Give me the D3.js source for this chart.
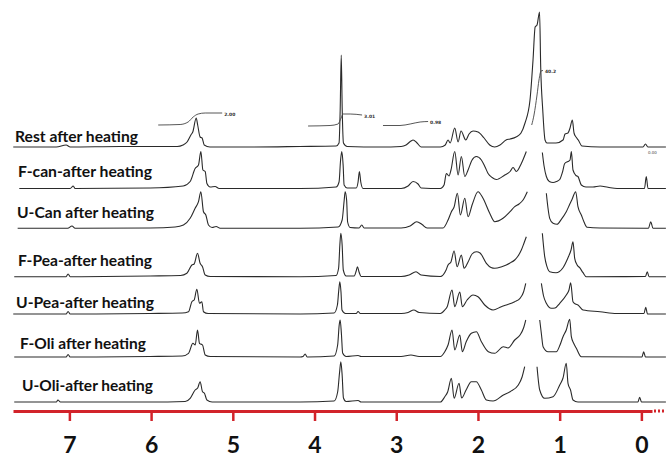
<!DOCTYPE html>
<html><head><meta charset="utf-8">
<script src="https://cdn.jsdelivr.net/npm/d3@7"></script>
<style>html,body{margin:0;padding:0;background:#fff;}svg{display:block;}</style>
</head><body>
<svg id="chart" width="666" height="457"></svg>
<script>
// ---------- DATA ----------
const ppmTicks = [7, 6, 5, 4, 3, 2, 1, 0];
const sampleNames = ["Rest after heating", "F-can-after heating", "U-Can after heating",
  "F-Pea-after heating", "U-Pea-after heating", "F-Oli after heating", "U-Oli-after heating"];

// [chemical shift (ppm), intensity]; null intensity = break in the trace
const restSpectrum = [[7.687,0],[7.16,0],[7.04,2],[6.99,0],[6.38,0.5],[5.68,0.5],[5.61,2],[5.56,5],[5.513,12],[5.49,15],[5.448,29],[5.43,22],[5.40,10],[5.376,9],[5.35,2],[5.28,0],
  [4.79,0],[4.18,0.5],[3.736,1],[3.70,4],[3.686,37],[3.673,92],[3.661,37],[3.646,4],[3.60,0.5],[3.19,0],[2.94,0.5],[2.88,2],[2.82,6],[2.794,7],[2.745,4],[2.696,0],
  [2.46,0],[2.40,2],[2.366,7],[2.34,4],[2.284,19],[2.243,5],[2.207,16],[2.149,7],[2.109,13],[2.06,16],[1.999,15],[1.925,9],[1.856,2],[1.795,0],[1.73,2],[1.656,7],[1.607,8],[1.534,10],[1.473,14],[1.424,24],[1.363,47],[1.326,87],[1.30,120],[1.277,122],[1.246,135],[1.232,80],[1.207,37],[1.179,7],[1.155,4],
  [1.045,4],[0.959,7],[0.934,13],[0.898,14],[0.873,19],[0.845,27],[0.824,14],[0.80,10],[0.772,7],[0.727,1],[0.506,0],[-0.02,0],[-0.05,3],[-0.08,0],[-0.30,0]];
const fCanSpectrum = [[7.613,0],[6.99,0],[6.953,2.5],[6.93,0],[6.01,0.5],[5.607,2.5],[5.522,7],[5.461,20],[5.42,23.5],[5.391,37],[5.366,18.5],[5.338,17],[5.317,5],[5.277,1.5],[5.216,2],[5.167,0],
  [4.176,0],[3.736,1.5],[3.70,6.5],[3.681,28.5],[3.666,37],[3.65,23.5],[3.638,3.5],[3.60,0.5],[3.49,0.5],[3.467,6.5],[3.451,17],[3.434,6.5],[3.406,0],[2.94,0],[2.855,2.5],[2.794,7],[2.733,4.5],[2.696,0.5],
  [2.46,0],[2.415,3.5],[2.387,15],[2.354,12.5],[2.33,18.5],[2.284,37],[2.243,13.5],[2.203,32],[2.161,12],[2.121,18.5],[2.072,28.5],[2.02,32],[1.958,28.5],[1.913,21.5],[1.876,15],[1.827,11],[1.775,9],[1.672,13.5],[1.607,17],[1.57,21],[1.53,17],[1.469,25],[1.408,37],
  [1.3,null],
  [1.212,36],[1.191,22.5],[1.163,12],[1.127,7],[1.081,6],[1.039,7],[0.999,9],[0.965,16.5],[0.938,25],[0.898,27],[0.873,28.5],[0.857,37],[0.837,18.5],[0.80,13],[0.776,12],[0.735,3.5],[0.678,1.5],[0.592,1.5],[0.506,2.5],[0.409,1.2],[0.298,0],[-0.038,0],[-0.06,12],[-0.081,0],[-0.30,0]];
const uCanSpectrum = [[7.633,0],[7.02,0],[6.968,2.3],[6.93,0],[6.01,0.3],[5.706,1.3],[5.604,3.3],[5.522,10],[5.461,20],[5.42,26.6],[5.391,36.6],[5.359,16.6],[5.33,13.3],[5.298,3.3],[5.253,0.8],[5.204,1.8],[5.155,0],
  [4.176,0],[3.711,1.3],[3.662,8.3],[3.637,28],[3.625,36.6],[3.607,28],[3.595,6.3],[3.564,0.8],[3.455,0.3],[3.422,3.3],[3.393,0.3],[2.94,0.3],[2.83,2.3],[2.749,6.6],[2.684,3.8],[2.623,0.3],
  [2.427,0.3],[2.366,8.3],[2.325,16.6],[2.292,21.3],[2.252,35],[2.215,13.3],[2.161,30],[2.121,11.6],[2.072,23.3],[1.999,36.6],[1.938,30],[1.856,15],[1.795,6.6],[1.693,10],[1.607,16.6],[1.55,21.6],[1.497,24.3],[1.448,28.3],[1.396,36.6],
  [1.3,null],
  [1.163,35],[1.143,20.3],[1.122,10],[1.081,5],[1.032,4],[0.98,9],[0.919,16.6],[0.877,24],[0.849,28.8],[0.804,36.6],[0.776,21.6],[0.735,13.3],[0.702,6.3],[0.665,1],[0.506,0.3],[-0.087,0],[-0.114,6.6],[-0.142,0],[-0.30,0]];
const fPeaSpectrum = [[7.675,0],[7.04,0],[7.016,2.7],[6.99,0],[6.01,0.7],[5.64,1.2],[5.562,3.4],[5.501,11.7],[5.473,12.7],[5.432,23.4],[5.40,13.4],[5.371,10],[5.338,1.7],[5.277,0.2],
  [4.176,0],[3.736,1.2],[3.705,8.7],[3.69,31.7],[3.678,43.4],[3.662,31.7],[3.648,6.7],[3.613,0.7],[3.515,0.7],[3.49,5.7],[3.475,10],[3.455,4.7],[3.43,0.2],[2.94,0.2],[2.843,1.7],[2.758,5],[2.696,1.7],
  [2.46,0.2],[2.39,6.7],[2.366,11.7],[2.33,14.7],[2.292,25.7],[2.255,10],[2.203,21.7],[2.17,8.4],[2.121,14.7],[2.072,22.7],[2.02,25],[1.974,23.7],[1.897,13.4],[1.84,9.2],[1.795,8.4],[1.717,9.7],[1.653,11.7],[1.607,13.7],[1.55,16.7],[1.509,20.7],[1.469,26.7],[1.436,33.7],[1.408,40],
  [1.3,null],
  [1.212,43.4],[1.183,20],[1.155,10],[1.122,5],[1.045,4],[0.959,9],[0.898,19],[0.861,26.7],[0.837,35],[0.816,18.4],[0.788,12],[0.755,9],[0.714,4],[0.674,0],[-0.05,0.2],[-0.072,5],[-0.093,0],[-0.30,0]];
const uPeaSpectrum = [[7.687,0],[7.04,0],[7.016,2.5],[6.99,0],[6.01,0.5],[5.62,1],[5.542,2.3],[5.501,12.3],[5.473,14],[5.44,24.7],[5.408,10.7],[5.379,12.3],[5.359,2.3],[5.302,0.5],
  [4.176,0],[3.76,1],[3.72,9],[3.703,24],[3.69,32.3],[3.676,22],[3.664,4],[3.621,0.5],[3.49,0.5],[3.467,2.5],[3.44,0.5],[2.94,0.5],[2.855,1.5],[2.785,4],[2.72,1.5],
  [2.46,0.5],[2.406,4],[2.378,7],[2.317,24],[2.284,7.3],[2.222,22],[2.191,7.3],[2.133,14],[2.06,19],[1.999,17.3],[1.917,9],[1.815,4],[1.714,7.3],[1.653,9],[1.55,12.3],[1.485,15.7],[1.442,22],[1.415,30.7],
  [1.3,null],
  [1.224,30.7],[1.197,18],[1.163,10.7],[1.102,5.7],[1.057,6],[0.999,10.7],[0.919,19],[0.886,24],[0.865,31.3],[0.837,12.3],[0.806,10],[0.776,9],[0.714,4],[0.506,2.3],[0.302,0.5],[-0.032,0.5],[-0.053,6.7],[-0.075,0],[-0.30,0]];
const fOliSpectrum = [[7.675,0],[7.04,0],[7.016,2.5],[6.99,0],[6.01,0.5],[5.62,1],[5.542,3.7],[5.488,13.7],[5.46,12],[5.432,27],[5.408,13.7],[5.371,12],[5.338,2],[5.277,0.5],
  [4.176,0],[4.14,0.5],[4.115,3],[4.09,0],[3.76,1],[3.717,12],[3.698,32],[3.686,37],[3.67,22],[3.656,4],[3.613,0.5],[3.467,1.5],[3.43,0.5],[2.94,0.5],[2.82,2],[2.72,0.5],
  [2.46,0.5],[2.406,5.3],[2.366,12],[2.317,27],[2.284,7],[2.222,22],[2.191,5.3],[2.145,15],[2.081,23.7],[2.02,25.3],[1.958,15.3],[1.873,5.3],[1.795,3.7],[1.689,10.3],[1.632,9],[1.55,17],[1.485,22],[1.442,29],[1.415,37],
  [1.3,null],
  [1.244,37],[1.222,22],[1.203,10.3],[1.142,5.3],[1.041,5.3],[0.996,12],[0.959,20.3],[0.919,27],[0.877,37.7],[0.857,20.3],[0.83,14],[0.796,8.7],[0.735,0.3],[-0.007,0],[-0.028,5.3],[-0.05,0],[-0.30,0]];
const uOliSpectrum = [[7.675,0],[7.16,0],[7.14,2],[7.11,0],[6.01,0],[5.583,0.5],[5.522,3.7],[5.461,12],[5.43,14],[5.40,20.3],[5.371,10.3],[5.347,8.7],[5.317,2],[5.253,0],
  [4.176,0],[3.76,1],[3.717,10],[3.693,30],[3.678,40.3],[3.662,27],[3.646,4],[3.613,0.5],[3.467,1.5],[3.43,0],
  [2.46,0],[2.406,5.3],[2.371,10],[2.325,23.7],[2.292,3.7],[2.231,18.7],[2.20,4],[2.145,12],[2.081,20.3],[2.02,20.3],[1.958,12],[1.897,2],[1.815,1],[1.689,7],[1.607,10.3],[1.506,17],[1.46,25],[1.428,35.3],
  [1.3,null],
  [1.277,35.3],[1.244,12],[1.183,3.7],[1.081,5.3],[0.999,17],[0.959,24],[0.919,38.7],[0.898,18.7],[0.867,12],[0.837,2],[0.776,0],[0.042,0],[0.021,4.7],[-0.001,0],[-0.30,0]];
const spectra = [restSpectrum, fCanSpectrum, uCanSpectrum, fPeaSpectrum, uPeaSpectrum, fOliSpectrum, uOliSpectrum];

// integration traces drawn over the top spectrum: [ppm, height]
const integrals = [
  [[5.913,22],[5.645,22.5],[5.547,25],[5.485,30],[5.424,33],[5.338,34],[5.13,34]],
  [[4.079,21],[3.81,21.5],[3.712,23],[3.675,29],[3.65,33],[3.564,33],[3.418,32]],
  [[3.162,21.5],[2.954,21.5],[2.83,23],[2.708,25],[2.61,25.5]],
  [[1.342,22],[1.314,32],[1.277,52],[1.253,67],[1.228,76],[1.204,76.5]]
];
const integralLabels = ["2.00", "3.01", "0.98", "40.2"];

// ---------- LAYOUT ----------
const W = 666, H = 457;
const baselines = [147, 188.5, 228.3, 276.7, 314, 357, 402];
const labelPos = [[15,142,123],[18,177,134],[17,218,137],[18,266,134],[16,308,138],[20,349,126],[22,391,131]];
const axisY = 411;

const svg = d3.select("#chart");
const x = d3.scaleLinear().domain([7.69, -0.13]).range([13, 652]);
const yInt = d3.scaleLinear().domain([0, 100]).range([0, 100]);

const line = d3.line()
  .defined(d => d[1] !== null)
  .x(d => x(d[0]))
  .curve(d3.curveMonotoneX);

spectra.forEach((s, i) => {
  svg.append("path")
    .attr("d", line.y(d => baselines[i] - yInt(d[1]))(s))
    .attr("fill", "none")
    .attr("stroke", "#2a2a2a")
    .attr("stroke-width", 1.1)
    .attr("stroke-linejoin", "round");
});

// integral traces
integrals.forEach((s, k) => {
  svg.append("path")
    .attr("d", line.y(d => baselines[0] - yInt(d[1]))(s))
    .attr("fill", "none")
    .attr("stroke", "#444")
    .attr("stroke-width", 0.9);
  const last = s[s.length - 1];
  svg.append("text")
    .attr("x", x(last[0]) + 2)
    .attr("y", baselines[0] - yInt(last[1]) + 2.5)
    .attr("font-family", "DejaVu Sans")
    .attr("font-size", 4.5)
    .attr("font-weight", "bold")
    .attr("fill", "#333")
    .text(integralLabels[k]);
});
svg.append("text").attr("x", 648).attr("y", 154).attr("font-family","DejaVu Sans")
  .attr("font-size", 4).attr("fill", "#444").text("0.00");

// sample labels
svg.selectAll("text.lab").data(sampleNames).join("text")
  .attr("class", "lab")
  .attr("x", (d, i) => labelPos[i][0])
  .attr("y", (d, i) => labelPos[i][1])
  .attr("textLength", (d, i) => labelPos[i][2])
  .attr("lengthAdjust", "spacingAndGlyphs")
  .attr("font-family", "Lato, 'Open Sans', sans-serif")
  .attr("font-weight", "bold")
  .attr("font-size", 16)
  .attr("fill", "#111")
  .text(d => d);

// axis
const axis = d3.axisBottom(x).tickValues(ppmTicks).tickSize(10).tickSizeOuter(0).tickFormat(d3.format("d"));
const g = svg.append("g").attr("transform", `translate(0,${axisY})`).call(axis);
g.select(".domain").attr("stroke", "#d2232a").attr("stroke-width", 3);
g.selectAll(".tick line").attr("stroke", "#d2232a").attr("stroke-width", 2.5);
g.selectAll(".tick text")
  .attr("y", 42).attr("dy", null)
  .attr("fill", "#111")
  .attr("font-family", "Lato, 'Open Sans', sans-serif")
  .attr("font-weight", "bold")
  .attr("font-size", 23);
svg.append("line").attr("x1", 654).attr("x2", 666).attr("y1", axisY).attr("y2", axisY)
  .attr("stroke", "#d2232a").attr("stroke-width", 3).attr("stroke-dasharray", "2,2");
</script>
</body></html>
